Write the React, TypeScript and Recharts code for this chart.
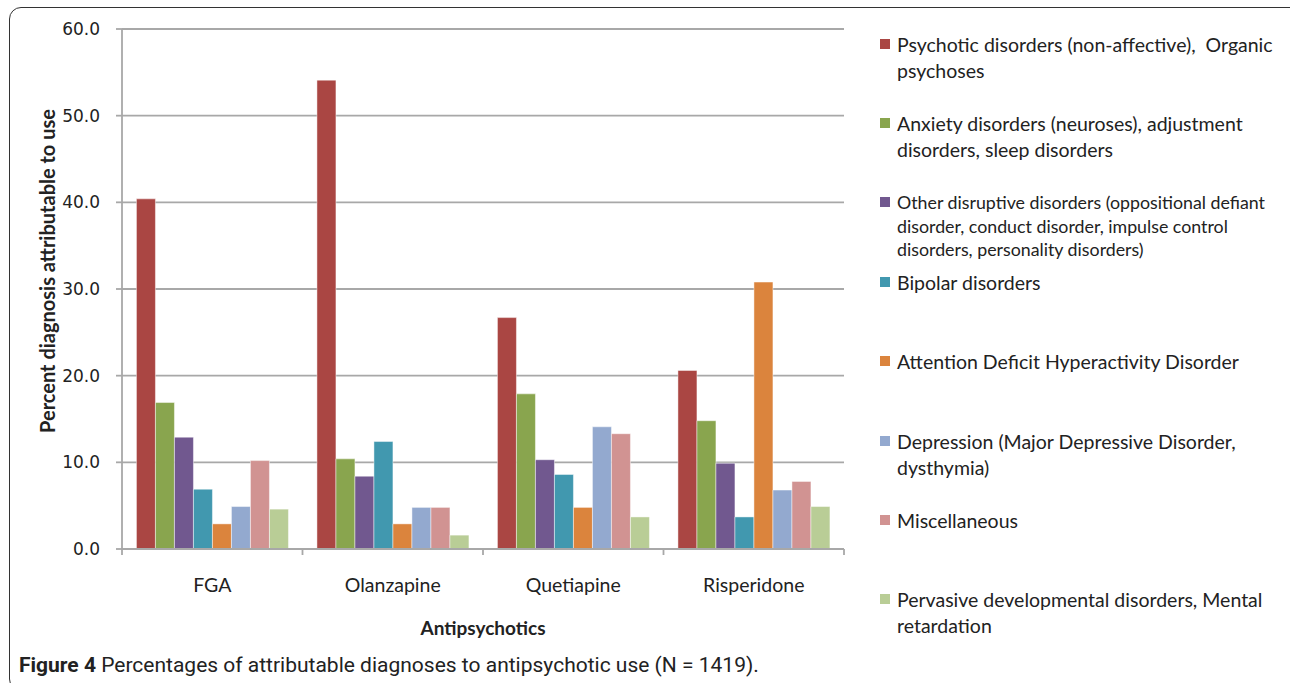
import React from 'react'
import { BarChart, Bar, XAxis, YAxis, CartesianGrid, Legend } from 'recharts'

// Attributable diagnoses (%) per antipsychotic group
const drugs = ['FGA', 'Olanzapine', 'Quetiapine', 'Risperidone']

const psychotic = [40.4, 54.1, 26.7, 20.6]
const anxiety = [16.9, 10.4, 17.9, 14.8]
const disruptive = [12.9, 8.4, 10.3, 9.9]
const bipolar = [6.9, 12.4, 8.6, 3.7]
const adhd = [2.9, 2.9, 4.8, 30.8]
const depression = [4.9, 4.8, 14.1, 6.8]
const misc = [10.2, 4.8, 13.3, 7.8]
const pervasive = [4.6, 1.6, 3.7, 4.9]

const yTicks = [0, 10, 20, 30, 40, 50, 60]

const series = [
  { key: 'psychotic', values: psychotic, color: '#AA4643', name: 'Psychotic disorders (non-affective),  Organic\npsychoses' },
  { key: 'anxiety', values: anxiety, color: '#89A54E', name: 'Anxiety disorders (neuroses), adjustment\ndisorders, sleep disorders' },
  { key: 'disruptive', values: disruptive, color: '#71588F', name: 'Other disruptive disorders (oppositional defiant\ndisorder, conduct disorder, impulse control\ndisorders, personality disorders)' },
  { key: 'bipolar', values: bipolar, color: '#4198AF', name: 'Bipolar disorders' },
  { key: 'adhd', values: adhd, color: '#DB843D', name: 'Attention Deficit Hyperactivity Disorder' },
  { key: 'depression', values: depression, color: '#93A9CF', name: 'Depression (Major Depressive Disorder,\ndysthymia)' },
  { key: 'misc', values: misc, color: '#D19392', name: 'Miscellaneous' },
  { key: 'pervasive', values: pervasive, color: '#B9CD96', name: 'Pervasive developmental disorders, Mental\nretardation' },
]

const rows = drugs.map((drug, i) => {
  const row: Record<string, string | number> = { drug }
  series.forEach(s => {
    row[s.key] = s.values[i]
  })
  return row
})

const GRID = '#a8a8a8'
const INK = '#222'
const order = series.map(s => s.name)

function LegendBlock(props: any) {
  // keep the series order rather than the legend's default sort
  const items = [...(props.payload ?? [])].sort(
    (a: any, b: any) => order.indexOf(a.value) - order.indexOf(b.value)
  )
  return (
    <div style={{ position: 'relative', width: 414, height: 640 }}>
      {items.map((item: any, i: number) => {
        const lines = String(item.value).split('\n')
        const compact = lines.length > 2
        const lh = compact ? 23.5 : 26
        const top = compact ? 191 : 32 + i * 79.3
        return (
          <div key={item.value} style={{ position: 'absolute', left: 0, top, width: 414 }}>
            <span
              style={{
                position: 'absolute',
                left: 4,
                top: lh / 2 - 6,
                width: 10,
                height: 10,
                background: item.color,
              }}
            />
            <div
              style={{
                marginLeft: 21,
                fontFamily: 'Lato, sans-serif',
                fontSize: compact ? 17.8 : 19.5,
                lineHeight: `${lh}px`,
                color: INK,
                whiteSpace: 'pre',
              }}
            >
              {item.value}
            </div>
          </div>
        )
      })}
    </div>
  )
}

// category label plus the tick marks on the group boundaries
function DrugTick(props: any) {
  const { x, y, payload, index } = props
  const half = payload.offset ?? 0
  const last = index === drugs.length - 1
  return (
    <g>
      <line x1={x - half} x2={x - half} y1={y - 6} y2={y} stroke={GRID} strokeWidth={1.8} />
      {last && <line x1={x + half} x2={x + half} y1={y - 6} y2={y} stroke={GRID} strokeWidth={1.8} />}
      <text
        x={x}
        y={y + 23}
        dy="0.71em"
        textAnchor="middle"
        fontFamily="Lato, sans-serif"
        fontSize={19.5}
        fill={INK}
      >
        {payload.value}
      </text>
    </g>
  )
}

export default function App() {
  return (
    <div
      style={{
        position: 'fixed',
        left: 0,
        top: 0,
        width: 1290,
        height: 683,
        overflow: 'hidden',
        background: '#fff',
      }}
    >
      <div
        style={{
          position: 'absolute',
          left: 9,
          top: 7,
          width: 1300,
          height: 682,
          border: '1.5px solid #333',
          borderRadius: 12,
        }}
      />
      <div style={{ position: 'absolute', left: 0, top: 0 }}>
        <BarChart
          width={1290}
          height={683}
          data={rows}
          margin={{ top: 29, right: 446, bottom: 44, left: 0 }}
          barCategoryGap="8%"
          barGap={0}
        >
          <CartesianGrid vertical={false} stroke={GRID} strokeWidth={1.8} />
          <XAxis
            dataKey="drug"
            height={90}
            tickLine={false}
            axisLine={{ stroke: GRID, strokeWidth: 1.8 }}
            tickSize={6}
            tickMargin={0}
            tick={<DrugTick />}
            label={{
              value: 'Antipsychotics',
              position: 'insideBottom',
              offset: 4,
              fontFamily: 'Lato, sans-serif',
              fontWeight: 700,
              fontSize: 19,
              fill: INK,
            }}
          />
          <YAxis
            width={122}
            domain={[0, 60]}
            ticks={yTicks}
            tickFormatter={(v: number) => v.toFixed(1)}
            axisLine={{ stroke: GRID, strokeWidth: 1.8 }}
            tickLine={{ stroke: GRID, strokeWidth: 1.8 }}
            tickSize={6}
            tickMargin={16}
            tick={{ fontFamily: 'DejaVu Sans, sans-serif', fontSize: 17, fill: INK }}
            label={{
              content: (p: any) => {
                const vb = p.viewBox
                const cx = vb.x + 47
                const cy = vb.y + vb.height / 2 - 18
                return (
                  <text
                    x={cx}
                    y={cy}
                    transform={`rotate(-90 ${cx} ${cy})`}
                    textAnchor="middle"
                    dominantBaseline="central"
                    fontFamily="Lato, sans-serif"
                    fontWeight={700}
                    fontSize={20}
                    fill={INK}
                  >
                    Percent diagnosis attributable to use
                  </text>
                )
              },
            }}
          />
          <Legend
            layout="vertical"
            align="center"
            verticalAlign="middle"
            content={<LegendBlock />}
            wrapperStyle={{ left: 876, top: 0, width: 414 }}
          />
          {series.map(s => (
            <Bar
              key={s.key}
              dataKey={s.key}
              name={s.name}
              fill={s.color}
              stroke="rgba(255,255,255,0.45)"
              strokeWidth={1}
              isAnimationActive={false}
            />
          ))}
        </BarChart>
      </div>
      <div
        style={{
          position: 'absolute',
          left: 19,
          top: 653,
          fontFamily: '"Liberation Sans Narrow", Roboto, sans-serif',
          fontSize: 21,
          lineHeight: '24px',
          color: INK,
          whiteSpace: 'nowrap',
        }}
      >
        <b>Figure 4</b> Percentages of attributable diagnoses to antipsychotic use (N = 1419).
      </div>
    </div>
  )
}
